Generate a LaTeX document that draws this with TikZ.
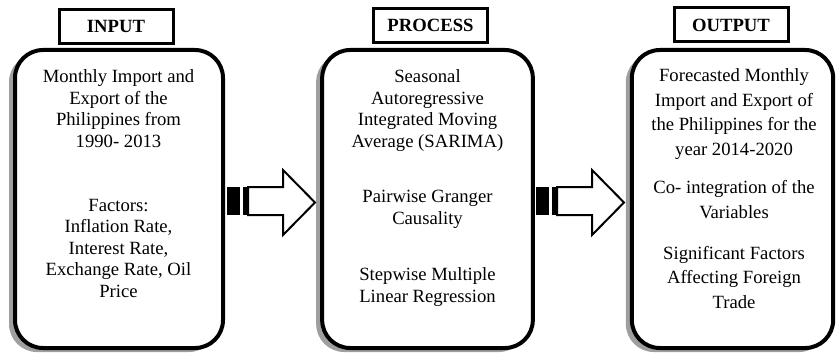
\documentclass[tikz,border=0pt]{standalone}
\usepackage{fontspec}
\setmainfont{Liberation Serif}
\usetikzlibrary{shadows, positioning}

\begin{document}
\begin{tikzpicture}[x=0.75pt, y=-0.75pt,
    labelbox/.style={draw, line width=2.25pt, minimum width=85.5pt, minimum height=25.5pt,
        inner sep=0pt, font=\fontsize{14}{16}\selectfont\bfseries},
    bigbox/.style={draw, fill=white, line width=3pt, rounded corners=21pt, inner sep=0pt,
        general shadow={fill=gray!75, shadow xshift=-4.5pt, shadow yshift=-3pt}},
    para/.style={inner sep=0pt, align=center, anchor=base, font=\fontsize{14}{16.1}\selectfont},
    outpara/.style={para, font=\fontsize{14}{18.3}\selectfont}]
\useasboundingbox (0,0) rectangle (837,353);

% Input column (text nodes sit on the baseline of their last line)
\node[labelbox] (inlabel) at (116,26.5) {INPUT};
\node[bigbox, minimum width=156pt, minimum height=223.5pt] (inbox) at (119,199) {};
\node[para] (intext) at (118.5,147) {Monthly Import and\\Export of the\\Philippines from\\1990- 2013};
\node[para] (infactors) at (118.5,297) {Factors:\\Inflation Rate,\\Interest Rate,\\Exchange Rate, Oil\\Price};

% Process column
\node[labelbox] (proclabel) at (430.5,25.5) {PROCESS};
\node[bigbox, minimum width=158pt, minimum height=223.5pt] (procbox) at (427.5,199) {};
\node[para] (sarima) at (427.5,147) {Seasonal\\Autoregressive\\Integrated Moving\\Average (SARIMA)};
\node[para] (granger) at (427.5,224) {Pairwise Granger\\Causality};
\node[para] (stepwise) at (427.5,302) {Stepwise Multiple\\Linear Regression};

% Output column
\node[labelbox] (outlabel) at (731,25) {OUTPUT};
\node[bigbox, minimum width=151pt, minimum height=223.5pt] (outbox) at (732.5,199) {};
\node[outpara] (forecast) at (734,155) {Forecasted Monthly\\Import and Export of\\the Philippines for the\\year 2014-2020};
\node[outpara] (coint) at (734,218) {Co- integration of the\\Variables};
\node[outpara] (signif) at (734,308) {Significant Factors\\Affecting Foreign\\Trade};

% Striped block arrows
\foreach \ax in {227,536} {
    \fill (\ax,187) rectangle (\ax+13,215);
    \fill (\ax+16,187) rectangle (\ax+21,215);
    \draw[line width=1.5pt, line join=miter, fill=white] (\ax+21,187) -- (\ax+56,187) -- (\ax+56,170)
        -- (\ax+88,202.5) -- (\ax+56,235) -- (\ax+56,215) -- (\ax+21,215) -- cycle;
}
\end{tikzpicture}
\end{document}
